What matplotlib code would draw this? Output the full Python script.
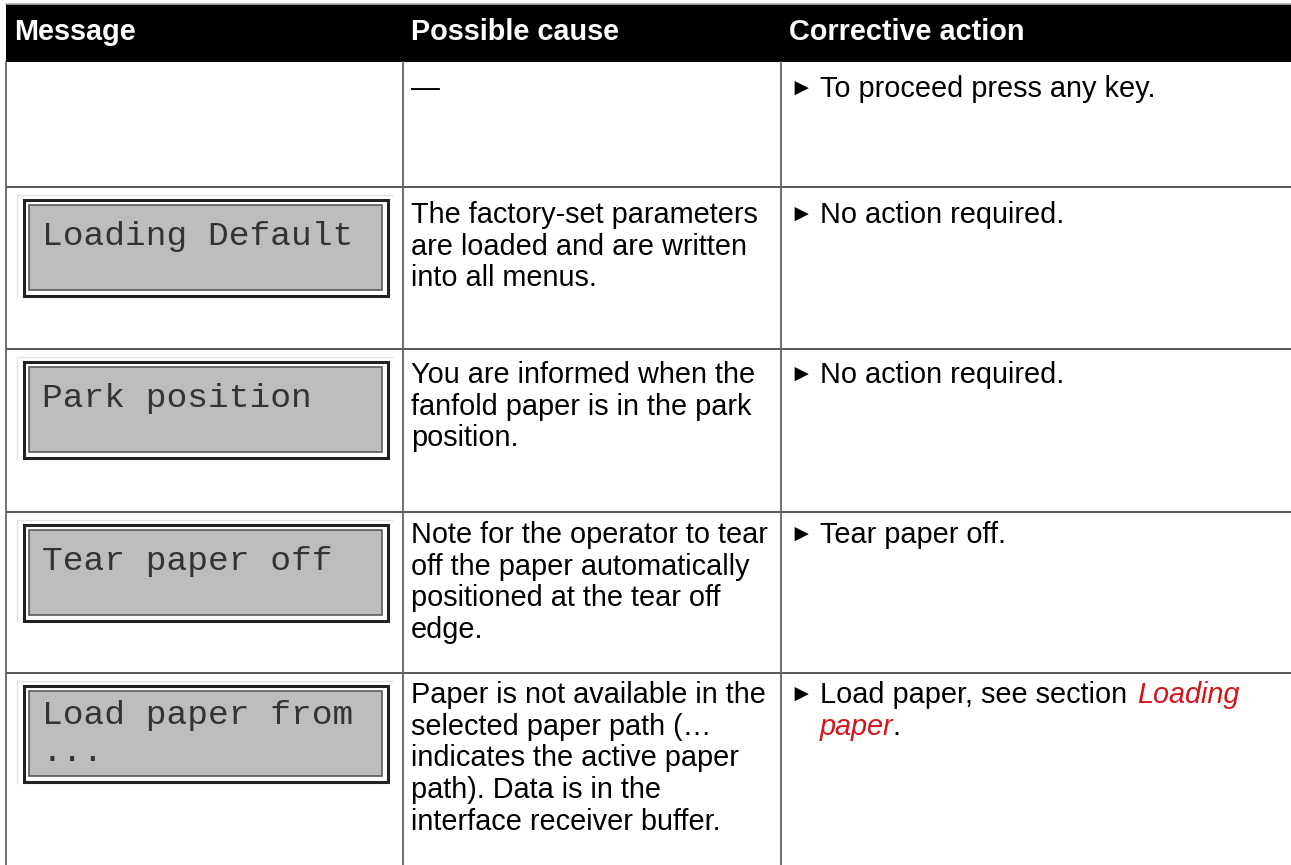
import matplotlib.pyplot as plt
from matplotlib.patches import Rectangle

# table content
headers = ["Message", "Possible cause", "Corrective action"]
messages = [[], ["Loading Default"], ["Park position"], ["Tear paper off"],
            ["Load paper from", "..."]]
causes = [
    ["\u2014"],
    ["The factory-set parameters", "are loaded and are written", "into all menus."],
    ["You are informed when the", "fanfold paper is in the park", "position."],
    ["Note for the operator to tear", "off the paper automatically",
     "positioned at the tear off", "edge."],
    ["Paper is not available in the", "selected paper path (\u2026",
     "indicates the active paper", "path). Data is in the",
     "interface receiver buffer."],
]
actions = ["To proceed press any key.", "No action required.", "No action required.",
           "Tear paper off.", "Load paper, see section"]
link_text = ["Loading", "paper"]

# layout (pixels)
W, H = 1291, 865
col_x = [6, 403, 781]
row_y = [62, 187, 349, 512, 673, 865]
first_base = [97, 223, 383, 543, 703]
line_h = 31.7
fs = 20.8
mono_fs = 24.8
red = "#d2161e"

fig = plt.figure(figsize=(W / 100, H / 100), dpi=100)
ax = fig.add_axes([0, 0, 1, 1])
ax.set_xlim(0, W)
ax.set_ylim(H, 0)
ax.axis("off")

# header band
ax.add_patch(Rectangle((col_x[0], 4), W - col_x[0], row_y[0] - 4, color="black", lw=0))
ax.plot([col_x[0], W], [4, 4], color="#b0b0b0", lw=1.2)
for x, h in zip(col_x, headers):
    ax.text(x + 8, 40, h, color="white", fontsize=fs, fontweight="bold",
            family="Liberation Sans", va="baseline")

# grid lines
for y in row_y[1:-1]:
    ax.plot([col_x[0], W], [y, y], color="#2a2a2a", lw=1.1)
for x in col_x:
    ax.plot([x, x], [row_y[0], H], color="#666666", lw=1.3)

# LCD displays
for i, msg in enumerate(messages):
    if not msg:
        continue
    top = row_y[i] + 11
    x0, x1, hgt = 22, 389, 99
    ax.plot([x0 - 5, x0 - 5, x1 + 3], [top + hgt, top - 3, top - 3], color="#e2e2e2", lw=1)
    ax.add_patch(Rectangle((x0 + 1.5, top + 1.5), x1 - x0 - 3, hgt - 3,
                           facecolor="white", edgecolor="#222222", lw=2.2))
    ax.add_patch(Rectangle((x0 + 7, top + 7), x1 - x0 - 14, hgt - 14,
                           facecolor="#bdbdbd", edgecolor="#5a5a5a", lw=1.2))
    off = 47 if len(msg) == 1 else 40
    for j, line in enumerate(msg):
        ax.text(42, top + off + j * 37, line, fontsize=mono_fs, family="Liberation Mono",
                color="#333333", va="baseline")

# possible cause column
for i, lines in enumerate(causes):
    for j, line in enumerate(lines):
        ax.text(col_x[1] + 8, first_base[i] + j * line_h, line, fontsize=fs,
                family="Liberation Sans", va="baseline")

# corrective action column
fig.canvas.draw()
for i, act in enumerate(actions):
    yb = first_base[i]
    ax.text(col_x[2] + 8, yb - 2, "\u25ba", fontsize=17, family=["Liberation Sans", "DejaVu Sans"],
            va="baseline")
    t = ax.text(col_x[2] + 39, yb, act, fontsize=fs, family="Liberation Sans", va="baseline")
    if i == len(actions) - 1:
        x_end = t.get_window_extent().x1
        ax.text(x_end + 10, yb, link_text[0], fontsize=fs, family="Liberation Sans",
                style="italic", color=red, va="baseline")
        t2 = ax.text(col_x[2] + 39, yb + line_h, link_text[1], fontsize=fs,
                     family="Liberation Sans", style="italic", color=red, va="baseline")
        x_end2 = t2.get_window_extent().x1
        ax.text(x_end2 - 1, yb + line_h, ".", fontsize=fs, family="Liberation Sans",
                va="baseline")

fig.savefig("out.png", dpi=100)
